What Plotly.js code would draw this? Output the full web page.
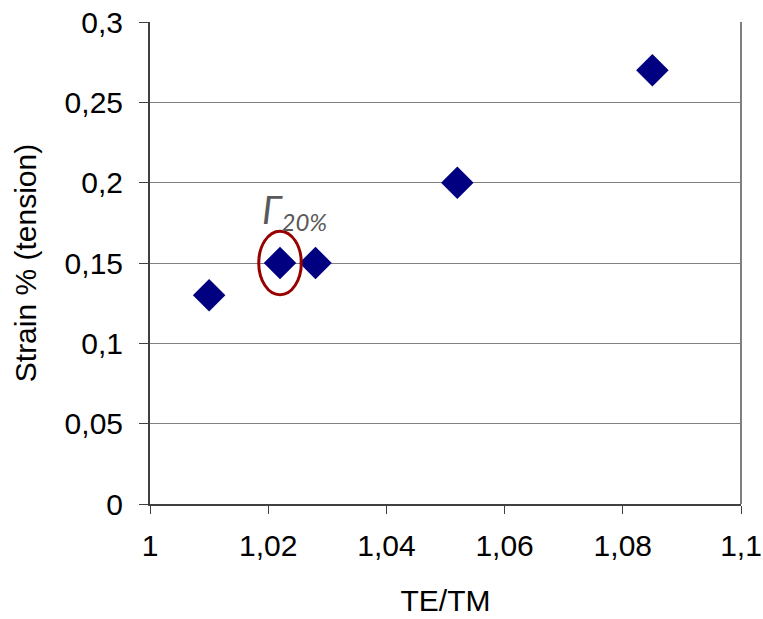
<!DOCTYPE html>
<html>
<head>
<meta charset="utf-8">
<script src="https://cdn.plot.ly/plotly-3.0.1.min.js"></script>
<style>html,body{margin:0;padding:0;background:#fff;}#chart{width:763px;height:619px;}</style>
</head>
<body>
<div id="chart"></div>
<script>
const teTm = [1.010, 1.022, 1.028, 1.052, 1.085];
const strain = [0.13, 0.15, 0.15, 0.20, 0.27];
const xTicks = [1, 1.02, 1.04, 1.06, 1.08, 1.1];
const yTicks = [0, 0.05, 0.1, 0.15, 0.2, 0.25, 0.3];
const highlightIndex = 1;
const highlightLabel = "<i><span style='font-size:38px'>Γ</span><sub><span style='font-size:24px'>20%</span></sub></i>";

const hx = teTm[highlightIndex], hy = strain[highlightIndex];

const trace = {
  x: teTm, y: strain, type: 'scatter', mode: 'markers',
  marker: {symbol: 'diamond', size: 25, color: '#000080', line: {width: 0}},
  hoverinfo: 'x+y'
};

const layout = {
  width: 763, height: 619,
  margin: {l: 150, r: 22, t: 22, b: 115},
  paper_bgcolor: '#fff', plot_bgcolor: '#fff',
  separators: ', ',
  showlegend: false,
  font: {family: 'Liberation Sans, Arial, sans-serif', size: 30, color: '#000'},
  xaxis: {
    range: [1, 1.1], tickvals: xTicks,
    showgrid: false, zeroline: false,
    showline: true, linecolor: '#404040', linewidth: 2,
    ticks: 'outside', ticklen: 8, tickcolor: '#404040', tickwidth: 1,
    ticklabelstandoff: 6,
    tickfont: {size: 30},
    title: {text: 'TE/TM', font: {size: 30}, standoff: 29}
  },
  yaxis: {
    range: [0, 0.3], tickvals: yTicks,
    showgrid: true, gridcolor: '#808080', gridwidth: 1,
    zeroline: false,
    showline: true, linecolor: '#404040', linewidth: 2,
    ticks: 'outside', ticklen: 9, tickcolor: '#404040', tickwidth: 1,
    ticklabelstandoff: 10,
    tickfont: {size: 30},
    title: {text: 'Strain % (tension)', font: {size: 30}, standoff: 19}
  },
  shapes: [
    {type: 'line', xref: 'paper', yref: 'paper', x0: 1, x1: 1, y0: 0, y1: 1,
     line: {color: '#808080', width: 2}},
    {type: 'circle', xref: 'x', yref: 'y',
     x0: hx - 0.0036, x1: hx + 0.0036, y0: hy - 0.0198, y1: hy + 0.0198,
     line: {color: '#990000', width: 3}}
  ],
  annotations: [
    {x: hx, y: hy, xref: 'x', yref: 'y',
     showarrow: false, xshift: 14, yshift: 52,
     text: highlightLabel, font: {family: 'Lato, Open Sans, sans-serif', size: 32, color: '#595959'}}
  ]
};

Plotly.newPlot('chart', [trace], layout, {displayModeBar: false, staticPlot: true});
</script>
</body>
</html>
